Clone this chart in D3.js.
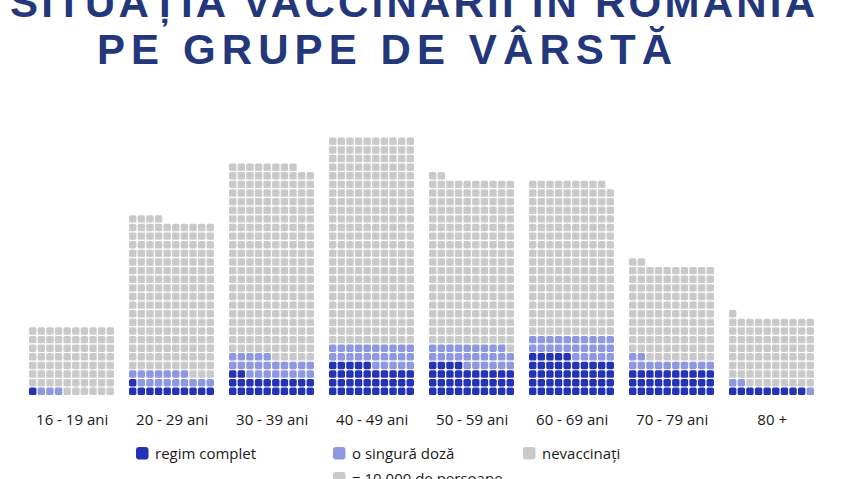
<!DOCTYPE html>
<html lang="ro">
<head>
  <meta charset="UTF-8">
  <style>
    html, body { margin: 0; padding: 0; background: #fff; }
    svg { display: block; }
    .title { font-family: "Liberation Sans", Arial, sans-serif; font-weight: bold; fill: #24377b; }
    .lbl { font-family: "Open Sans", sans-serif; font-size: 15px; fill: #1a1a1a; }
  </style>
  <script src="https://d3js.org/d3.v7.min.js"></script>
</head>
<body>
  <svg id="chart" width="843" height="479"></svg>

  <script>
    // one square = 10.000 persons
    const groups   = ["16 - 19 ani", "20 - 29 ani", "30 - 39 ani", "40 - 49 ani",
                      "50 - 59 ani", "60 - 69 ani", "70 - 79 ani", "80 +"];
    const complete = [1, 11, 22, 35, 34, 45, 30, 9];
    const single   = [3, 16, 23, 25, 25, 25, 12, 3];
    const total    = [80, 204, 268, 300, 252, 249, 152, 91];

    const legendItems = ["regim complet", "o singură doză", "nevaccinați"];
    const colors = ["#2432b5", "#8e98e0", "#c9c9c9"];

    const svg = d3.select("#chart");

    // title
    svg.append("text").attr("class", "title")
      .attr("x", 10).attr("y", 17)
      .attr("font-size", 42)
      .attr("textLength", 805).attr("lengthAdjust", "spacing")
      .text("SITUAȚIA VACCINĂRII ÎN ROMÂNIA");
    svg.append("text").attr("class", "title")
      .attr("x", 97).attr("y", 64)
      .attr("font-size", 42)
      .attr("textLength", 575).attr("lengthAdjust", "spacing")
      .text("PE GRUPE DE VÂRSTĂ");

    const pitch = 8.62, cell = 7.4, bottom = 395;

    const x = d3.scaleBand().domain(groups).range([29, 815.3]).paddingInner(0.137);
    const col = d3.scaleLinear().domain([0, 1]).range([0, pitch]);
    const row = d3.scaleLinear().domain([0, 1]).range([bottom - cell, bottom - cell - pitch]);

    // build the cells from the counts
    const cells = [];
    groups.forEach((g, gi) => {
      for (let i = 0; i < total[gi]; i++) {
        let s = 2;
        if (i < complete[gi]) s = 0;
        else if (i < complete[gi] + single[gi]) s = 1;
        cells.push({ g: g, c: i % 10, r: Math.floor(i / 10), s: s });
      }
    });

    svg.append("g")
      .selectAll("rect")
      .data(cells)
      .enter()
      .append("rect")
      .attr("x", d => x(d.g) + col(d.c))
      .attr("y", d => row(d.r))
      .attr("width", cell)
      .attr("height", cell)
      .attr("rx", 1.6)
      .attr("fill", d => colors[d.s]);

    // group labels
    svg.append("g")
      .selectAll("text")
      .data(groups)
      .enter()
      .append("text")
      .attr("class", "lbl")
      .attr("x", d => x(d) + x.bandwidth() / 2)
      .attr("y", 425)
      .attr("text-anchor", "middle")
      .text(d => d);

    // legend
    const legX = [136, 333, 523];
    const legend = svg.append("g");
    legendItems.forEach((t, i) => {
      legend.append("rect")
        .attr("x", legX[i]).attr("y", 447)
        .attr("width", 12.5).attr("height", 12.5)
        .attr("rx", 3)
        .attr("fill", colors[i]);
      legend.append("text")
        .attr("class", "lbl")
        .attr("x", legX[i] + 19).attr("y", 459)
        .text(t);
    });
    legend.append("rect")
      .attr("x", 333).attr("y", 472)
      .attr("width", 12.5).attr("height", 12.5)
      .attr("rx", 3)
      .attr("fill", colors[2]);
    legend.append("text")
      .attr("class", "lbl")
      .attr("x", 352).attr("y", 484)
      .text("= 10.000 de persoane");
  </script>
</body>
</html>
